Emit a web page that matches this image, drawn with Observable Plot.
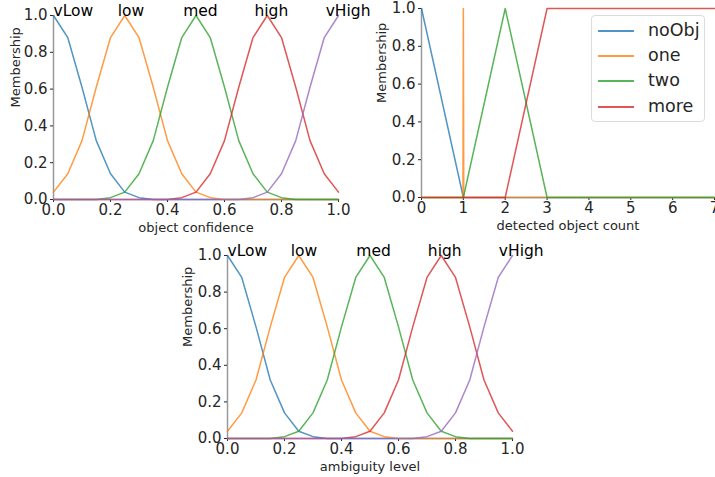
<!DOCTYPE html>
<html><head><meta charset="utf-8">
<script src="https://cdn.jsdelivr.net/npm/d3@7"></script>
<script src="https://cdn.jsdelivr.net/npm/@observablehq/plot@0.6"></script>
<style>
body{margin:0;background:#fff;font-family:"DejaVu Sans";}
#wrap{position:relative;width:715px;height:477px;overflow:hidden;background:#fff;}
.panel{position:absolute;}
.panel svg{overflow:visible;background:transparent;}
#legend{position:absolute;left:591px;top:15px;width:114px;height:107px;border:1px solid #dcdcdc;border-radius:4px;background:rgba(255,255,255,0.8);box-sizing:border-box;font-family:"DejaVu Sans";font-size:17.5px;color:#262626;}
.lrow{position:absolute;left:0;height:20px;}
.lrow .sw{position:absolute;left:6px;top:9px;width:36px;height:0;border-top:2px solid;}
.lrow .lt{position:absolute;left:56px;top:-1px;white-space:nowrap;line-height:20px;}
</style></head><body><div id="wrap"></div>
<script>
// ---- data ----
const gridX = [0,0.05,0.1,0.15,0.2,0.25,0.3,0.35,0.4,0.45,0.5,0.55,0.6,0.65,0.7,0.75,0.8,0.85,0.9,0.95,1.0];
const yTicks = [0,0.2,0.4,0.6,0.8,1.0];
const unitTicks = [0,0.2,0.4,0.6,0.8,1.0];
const countTicks = [0,1,2,3,4,5,6,7];

const confNames = ["vLow","low","med","high","vHigh"];
const confLabelX = [0.0,0.225,0.455,0.705,0.955];
const confVLow  = [1.00,0.88,0.61,0.32,0.14,0.04,0.01,0,0,0,0,0,0,0,0,0,0,0,0,0,0];
const confLow   = [0.04,0.14,0.32,0.61,0.88,1.00,0.88,0.61,0.32,0.14,0.04,0.01,0,0,0,0,0,0,0,0,0];
const confMed   = [0,0,0,0,0.01,0.04,0.14,0.32,0.61,0.88,1.00,0.88,0.61,0.32,0.14,0.04,0.01,0,0,0,0];
const confHigh  = [0,0,0,0,0,0,0,0,0,0.01,0.04,0.14,0.32,0.61,0.88,1.00,0.88,0.61,0.32,0.14,0.04];
const confVHigh = [0,0,0,0,0,0,0,0,0,0,0,0,0,0,0.01,0.04,0.14,0.32,0.61,0.88,1.00];

const ambNames = ["vLow","low","med","high","vHigh"];
const ambLabelX = [0.0,0.222,0.452,0.703,0.952];
const ambVLow  = [1.00,0.88,0.61,0.32,0.14,0.04,0.01,0,0,0,0,0,0,0,0,0,0,0,0,0,0];
const ambLow   = [0.04,0.14,0.32,0.61,0.88,1.00,0.88,0.61,0.32,0.14,0.04,0.01,0,0,0,0,0,0,0,0,0];
const ambMed   = [0,0,0,0,0.01,0.04,0.14,0.32,0.61,0.88,1.00,0.88,0.61,0.32,0.14,0.04,0.01,0,0,0,0];
const ambHigh  = [0,0,0,0,0,0,0,0,0,0.01,0.04,0.14,0.32,0.61,0.88,1.00,0.88,0.61,0.32,0.14,0.04];
const ambVHigh = [0,0,0,0,0,0,0,0,0,0,0,0,0,0,0.01,0.04,0.14,0.32,0.61,0.88,1.00];

const countNames = ["noObj","one","two","more"];
const noObjX = [0,1,7],            noObjY = [1,0,0];
const oneX   = [0,0.99,1,1.01,7],  oneY   = [0,0,1,0,0];
const twoX   = [0,1,2,3,7],        twoY   = [0,0,1,0,0];
const moreX  = [0,2,3,7],          moreY  = [0,0,1,1];

const palette = ["#1f77b4","#ff7f0e","#2ca02c","#d62728","#9467bd"];
// ---- end data ----

const FONT = "DejaVu Sans";
const fmt1 = d3.format(".1f");

function panel({left, top, width, height, mL, mR, mT, mB, xDomain, xTicks, xFmt, series, labels, xLabel, yLabelDx}) {
  const marks = [
    Plot.ruleX([xDomain[0]], {stroke: "#999", strokeWidth: 1.5}),
    Plot.axisY({ticks: yTicks, tickFormat: fmt1, tickSize: 3, tickPadding: 3, fontSize: 15, label: null, anchor: "left", color: "#262626"}),
    Plot.axisX({ticks: xTicks, tickFormat: xFmt, tickSize: 3, tickPadding: 2, fontSize: 15, label: null, anchor: "bottom", color: "#262626"}),
  ];
  series.forEach((s, i) => {
    marks.push(Plot.line(s.y, {x: (d, j) => s.x[j], y: d => d, stroke: palette[i], strokeWidth: 1.5, strokeOpacity: 0.78}));
  });
  if (labels) {
    marks.push(Plot.text(labels.names, {x: (d, i) => labels.x[i], y: () => 1, text: d => d, textAnchor: "start", lineAnchor: "bottom", fontSize: 15.5, fill: "#000"}));
  }
  marks.push(Plot.text([xLabel], {frameAnchor: "bottom", dy: 28, fontSize: 13, fill: "#262626", lineAnchor: "middle"}));
  marks.push(Plot.text(["Membership"], {frameAnchor: "left", dx: -yLabelDx, rotate: -90, fontSize: 13, fill: "#262626"}));
  const chart = Plot.plot({
    width, height, marginLeft: mL, marginRight: mR, marginTop: mT, marginBottom: mB,
    x: {domain: xDomain, axis: null},
    y: {domain: [0, 1], axis: null},
    style: {fontFamily: FONT, background: "transparent", overflow: "visible"},
    marks
  });
  const div = document.createElement("div");
  div.className = "panel";
  div.style.left = left + "px"; div.style.top = top + "px"; div.style.width = width + "px";
  div.appendChild(chart);
  document.getElementById("wrap").appendChild(div);
}

panel({left: 0, top: 0, width: 360, height: 240, mL: 53, mR: 22, mT: 15, mB: 41,
  xDomain: [0, 1], xTicks: unitTicks, xFmt: fmt1, xLabel: "object confidence", yLabelDx: 38,
  series: [confVLow, confLow, confMed, confHigh, confVHigh].map(y => ({x: gridX, y})),
  labels: {names: confNames, x: confLabelX}});

panel({left: 360, top: 0, width: 355, height: 240, mL: 61, mR: 1, mT: 8, mB: 43,
  xDomain: [0, 7], xTicks: countTicks, xFmt: d3.format("d"), xLabel: "detected object count", yLabelDx: 40,
  series: [{x: noObjX, y: noObjY}, {x: oneX, y: oneY}, {x: twoX, y: twoY}, {x: moreX, y: moreY}]});

panel({left: 170, top: 235, width: 360, height: 242, mL: 57, mR: 18, mT: 20, mB: 39,
  xDomain: [0, 1], xTicks: unitTicks, xFmt: fmt1, xLabel: "ambiguity level", yLabelDx: 40,
  series: [ambVLow, ambLow, ambMed, ambHigh, ambVHigh].map(y => ({x: gridX, y})),
  labels: {names: ambNames, x: ambLabelX}});

// legend for the count panel
const leg = document.createElement("div");
leg.id = "legend";
const rowTops = [5, 30, 55, 81];
countNames.forEach((n, i) => {
  const r = document.createElement("div");
  r.className = "lrow"; r.style.top = rowTops[i] + "px";
  const sw = document.createElement("div"); sw.className = "sw"; sw.style.borderColor = palette[i]; sw.style.opacity = 0.78;
  const t = document.createElement("div"); t.className = "lt"; t.textContent = n;
  r.appendChild(sw); r.appendChild(t); leg.appendChild(r);
});
document.getElementById("wrap").appendChild(leg);
</script></body></html>
